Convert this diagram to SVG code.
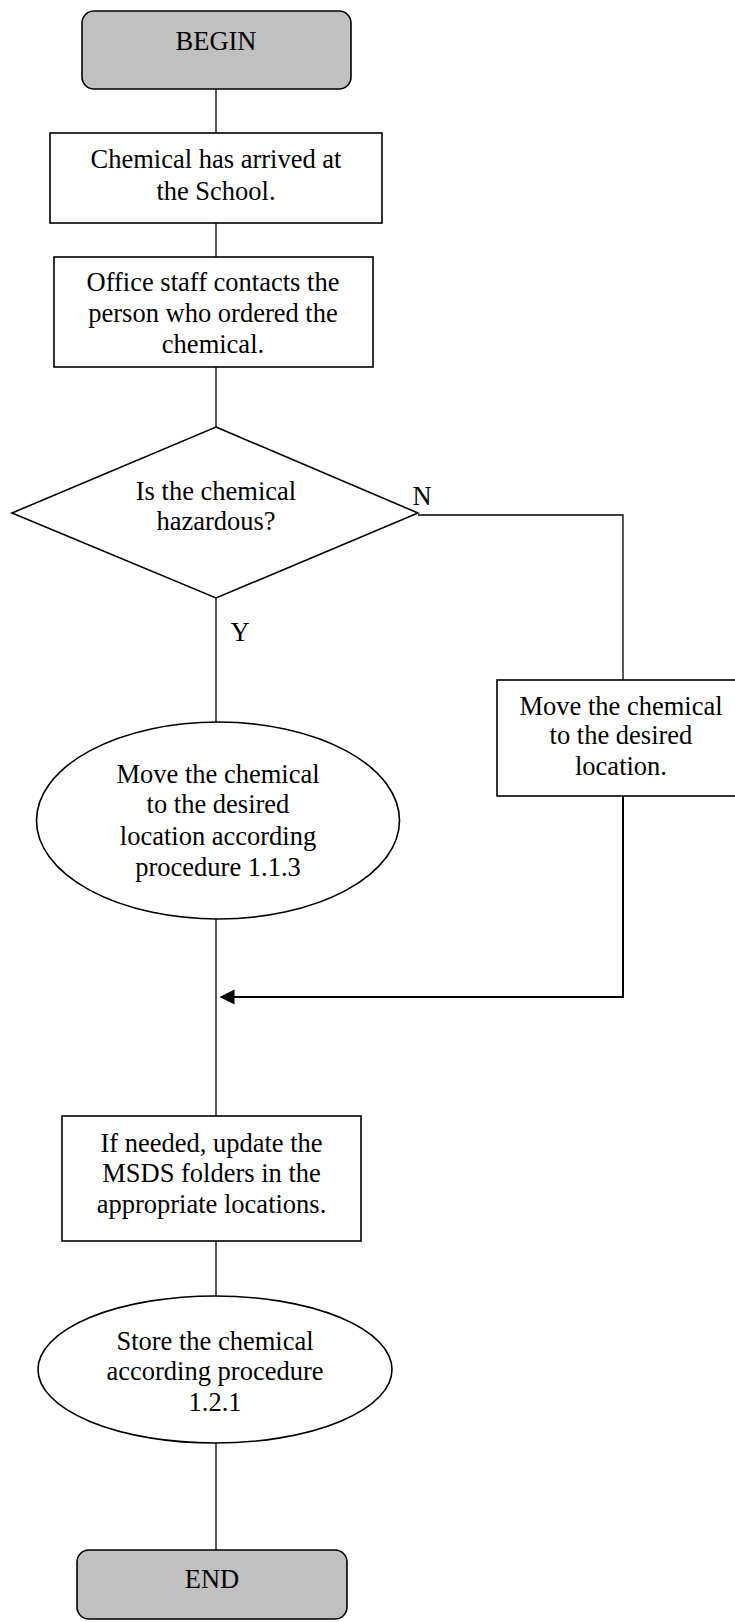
<svg xmlns="http://www.w3.org/2000/svg" width="735" height="1622" viewBox="0 0 735 1622">
<defs>
<style>
.n{fill:#fff;stroke:#000;stroke-width:1.6}
.t{fill:#c0c0c0;stroke:#000;stroke-width:1.6}
.c{fill:none;stroke:#000;stroke-width:1.3}
text{font-family:"Liberation Serif","Times New Roman",serif;font-size:26.5px;fill:#000;text-anchor:middle}
</style>
</defs>
<rect width="735" height="1622" fill="#fff"/>
<g id="connectors">
<line class="c" x1="216" y1="89" x2="216" y2="133"/>
<line class="c" x1="216" y1="223" x2="216" y2="257"/>
<line class="c" x1="216" y1="367" x2="216" y2="427"/>
<line class="c" x1="216" y1="598" x2="216" y2="722"/>
<line class="c" x1="216" y1="919" x2="216" y2="1116"/>
<line class="c" x1="216" y1="1241" x2="216" y2="1296"/>
<line class="c" x1="216" y1="1443" x2="216" y2="1550"/>
<polyline class="c" points="418,515 623,515 623,680"/>
<polyline fill="none" stroke="#000" stroke-width="2" points="623,796 623,997 234,997"/>
<path d="M219.5,997 L234.5,989.5 L234.5,1004.5 Z" fill="#000"/>
<text x="422" y="505">N</text>
<text x="240" y="641">Y</text>
</g>
<g id="begin">
<rect class="t" x="82" y="11" width="269" height="78" rx="12"/>
<text x="216" y="50">BEGIN</text>
</g>
<g id="arrived">
<rect class="n" x="50" y="133" width="332" height="90"/>
<text x="216" y="168">Chemical has arrived at</text>
<text x="216" y="200">the School.</text>
</g>
<g id="contact">
<rect class="n" x="54" y="257" width="319" height="110"/>
<text x="213" y="291">Office staff contacts the</text>
<text x="213" y="322">person who ordered the</text>
<text x="213" y="353">chemical.</text>
</g>
<g id="decision">
<polygon class="n" points="216,427 418,513 216,598 12,513"/>
<text x="216" y="500">Is the chemical</text>
<text x="216" y="530">hazardous?</text>
</g>
<g id="move-plain">
<rect class="n" x="497" y="680" width="251" height="116" stroke-width="2.2"/>
<text x="621" y="715">Move the chemical</text>
<text x="621" y="744">to the desired</text>
<text x="621" y="775">location.</text>
</g>
<g id="move-hazard">
<ellipse class="n" cx="218" cy="820.5" rx="181.5" ry="98.5"/>
<text x="218" y="783">Move the chemical</text>
<text x="218" y="813">to the desired</text>
<text x="218" y="845">location according</text>
<text x="218" y="876">procedure 1.1.3</text>
</g>
<g id="msds">
<rect class="n" x="62" y="1116" width="299" height="125"/>
<text x="211.5" y="1152">If needed, update the</text>
<text x="211.5" y="1182">MSDS folders in the</text>
<text x="211.5" y="1213">appropriate locations.</text>
</g>
<g id="store">
<ellipse class="n" cx="215" cy="1369.5" rx="177" ry="73.5"/>
<text x="215" y="1350">Store the chemical</text>
<text x="215" y="1380">according procedure</text>
<text x="215" y="1411">1.2.1</text>
</g>
<g id="end">
<rect class="t" x="77" y="1550" width="270" height="69" rx="12"/>
<text x="212" y="1588">END</text>
</g>
</svg>
